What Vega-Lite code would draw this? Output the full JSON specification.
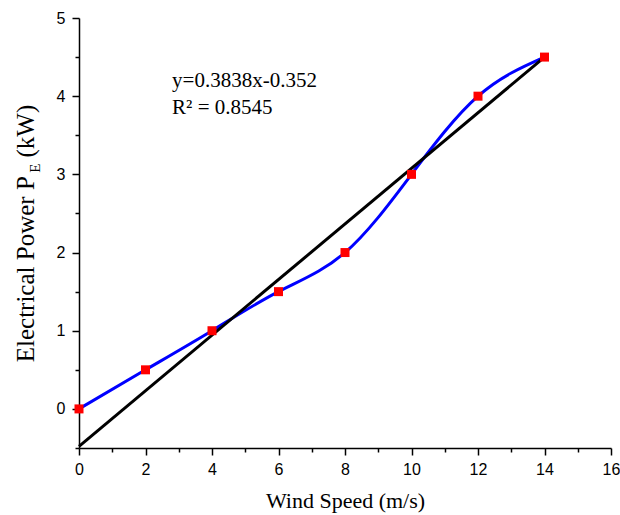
{
  "$schema": "https://vega.github.io/schema/vega-lite/v6.json",
  "width": 532,
  "height": 430,
  "autosize": "none",
  "padding": {"left": 79, "top": 18, "right": 9, "bottom": 67},
  "background": "white",
  "config": {"view": {"stroke": null}},
  "datasets": {
    "power": [
      {"speed": 0, "power": 0},
      {"speed": 2, "power": 0.5},
      {"speed": 4, "power": 1},
      {"speed": 6, "power": 1.5},
      {"speed": 8, "power": 2},
      {"speed": 10, "power": 3},
      {"speed": 12, "power": 4},
      {"speed": 14, "power": 4.5}
    ],
    "fit": [
      {"speed": 0, "power": -0.48},
      {"speed": 14, "power": 4.5}
    ],
    "notes": [
      {"speed": 2.8, "power": 4.12, "label": "y=0.3838x-0.352"},
      {"speed": 2.8, "power": 3.77, "label": "R² = 0.8545"}
    ],
    "sub": [
      {"speed": -1.33, "power": 3.08, "label": "E"}
    ]
  },
  "encoding": {
    "x": {
      "field": "speed",
      "type": "quantitative",
      "scale": {"domain": [0, 16], "nice": false, "zero": false},
      "axis": {
        "values": [0,1,2,3,4,5,6,7,8,9,10,11,12,13,14,15,16],
        "labelExpr": "datum.value % 2 === 0 ? format(datum.value, 'd') : ''",
        "tickSize": {"condition": {"test": "datum.value % 2 !== 0", "value": 4}, "value": 7},
        "title": "Wind Speed (m/s)",
        "titleFont": "Liberation Serif",
        "titleFontSize": 22,
        "titleFontWeight": "normal",
        "titleColor": "black",
        "titlePadding": 13,
        "labelFont": "Liberation Sans",
        "labelFontSize": 16,
        "labelColor": "black",
        "labelPadding": 6,
        "labelFlush": false,
        "labelOverlap": false,
        "domainColor": "black",
        "domainWidth": 1.5,
        "tickColor": "black",
        "tickWidth": 1.5,
        "grid": false
      }
    },
    "y": {
      "field": "power",
      "type": "quantitative",
      "scale": {"domain": [-0.5, 5], "nice": false, "zero": false},
      "axis": {
        "values": [-0.5,0,0.5,1,1.5,2,2.5,3,3.5,4,4.5,5],
        "labelExpr": "datum.value % 1 === 0 ? format(datum.value, 'd') : ''",
        "tickSize": {"condition": {"test": "datum.value % 1 !== 0", "value": 4}, "value": 7},
        "title": "Electrical Power P\u00a0\u00a0\u00a0(kW)",
        "titleFont": "Liberation Serif",
        "titleFontSize": 25,
        "titleFontWeight": "normal",
        "titleColor": "black",
        "titlePadding": 18,
        "labelFont": "Liberation Sans",
        "labelFontSize": 16,
        "labelColor": "black",
        "labelPadding": 7,
        "labelFlush": false,
        "labelOverlap": false,
        "domainColor": "black",
        "domainWidth": 1.5,
        "tickColor": "black",
        "tickWidth": 1.5,
        "grid": false
      }
    }
  },
  "layer": [
    {
      "data": {"name": "power"},
      "mark": {"type": "line", "color": "#0000FF", "strokeWidth": 3, "interpolate": "natural"}
    },
    {
      "data": {"name": "fit"},
      "mark": {"type": "line", "color": "black", "strokeWidth": 3}
    },
    {
      "data": {"name": "power"},
      "mark": {"type": "point", "shape": "square", "filled": true, "color": "#FF0000", "size": 81, "opacity": 1}
    },
    {
      "data": {"name": "notes"},
      "mark": {"type": "text", "align": "left", "baseline": "alphabetic", "font": "Liberation Serif", "fontSize": 21, "color": "black"},
      "encoding": {"text": {"field": "label", "type": "nominal"}}
    },
    {
      "data": {"name": "sub"},
      "mark": {"type": "text", "angle": 270, "align": "center", "baseline": "middle", "font": "Liberation Serif", "fontSize": 15, "color": "black", "clip": false},
      "encoding": {"text": {"field": "label", "type": "nominal"}}
    }
  ]
}
